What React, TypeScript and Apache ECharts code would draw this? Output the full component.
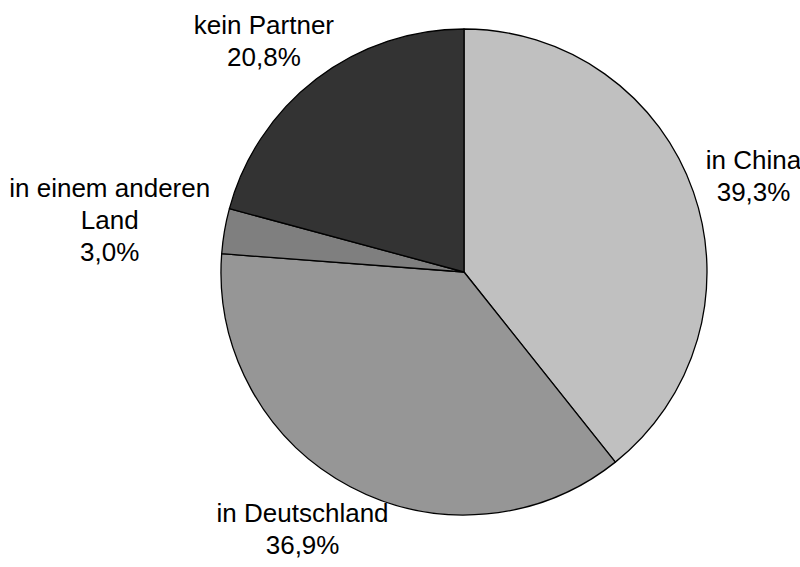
import React, { useEffect, useRef } from "react";
import * as echarts from "echarts";

const categories = ["in China", "in Deutschland", "in einem anderen\nLand", "kein Partner"];
const values = [39.3, 36.9, 3.0, 20.8];
const colors = ["#c0c0c0", "#969696", "#7f7f7f", "#333333"];

const CX = 464;
const CY = 272;
const R = 243;
const GAP = 16;

export default function App() {
  const ref = useRef<HTMLDivElement>(null);
  useEffect(() => {
    if (!ref.current) return;
    const chart = echarts.init(ref.current, null, { renderer: "svg" });
    const total = values.reduce((a, b) => a + b, 0);
    const mids: number[] = [];
    let acc = 0;
    values.forEach((v) => {
      mids.push(((acc + v / 2) / total) * Math.PI * 2);
      acc += v;
    });
    chart.setOption({
      animation: false,
      backgroundColor: "#ffffff",
      series: [
        {
          type: "pie",
          center: [CX, CY],
          radius: [0, R],
          startAngle: 90,
          clockwise: true,
          avoidLabelOverlap: false,
          data: categories.map((name, i) => ({
            name,
            value: values[i],
            itemStyle: { color: colors[i] },
          })),
          itemStyle: { borderColor: "#000000", borderWidth: 1.3 },
          label: {
            show: true,
            position: "outside",
            formatter: (p: any) => `${p.name}\n${Number(p.value).toFixed(1).replace(".", ",")}%`,
            fontFamily: "'Liberation Sans', Arial, Helvetica, sans-serif",
            fontSize: 26,
            lineHeight: 32,
            color: "#000000",
            align: "center",
          },
          labelLine: { show: false },
          emphasis: { disabled: true },
          labelLayout: (params: any) => {
            const a = mids[params.dataIndex];
            const dx = Math.sin(a);
            const dy = -Math.cos(a);
            const w = params.labelRect.width;
            const h = params.labelRect.height;
            const px = CX + dx * (R + GAP);
            const py = CY + dy * (R + GAP);
            return {
              x: px + (dx * w) / 2,
              y: py + (dy * h) / 2,
              align: "center",
              verticalAlign: "middle",
            };
          },
        },
      ],
    });
    return () => chart.dispose();
  }, []);
  return (
    <div
      ref={ref}
      style={{ position: "fixed", left: 0, top: 0, width: 800, height: 567, background: "#fff" }}
    />
  );
}
